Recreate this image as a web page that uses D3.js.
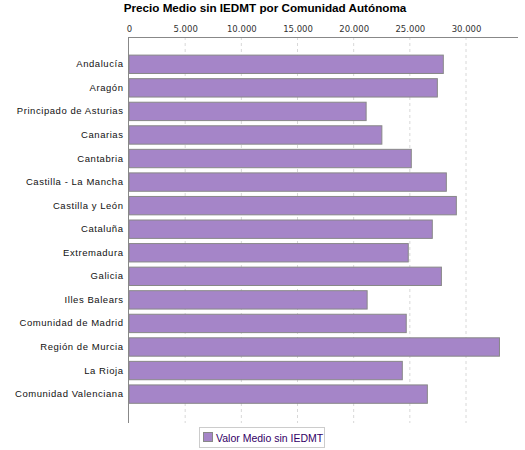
<!DOCTYPE html>
<html>
<head>
<meta charset="utf-8">
<script src="https://cdn.jsdelivr.net/npm/d3@7"></script>
<style>
  body { margin: 0; background: #fff; }
  svg { display: block; }
</style>
</head>
<body>
<div id="chart"></div>
<script>
const categories = [
  "Andalucía", "Aragón", "Principado de Asturias", "Canarias", "Cantabria",
  "Castilla - La Mancha", "Castilla y León", "Cataluña", "Extremadura", "Galicia",
  "Illes Balears", "Comunidad de Madrid", "Región de Murcia", "La Rioja",
  "Comunidad Valenciana"
];
const values = [
  27980, 27450, 21110, 22510, 25130,
  28250, 29140, 27000, 24860, 27810,
  21200, 24680, 32980, 24330, 26560
];
const ticks = [0, 5000, 10000, 15000, 20000, 25000, 30000];
const seriesName = "Valor Medio sin IEDMT";
const title = "Precio Medio sin IEDMT por Comunidad Autónoma";

const width = 525, height = 450;
const plot = { left: 129, right: 518, top: 37, bottom: 423 };

const svg = d3.select("#chart").append("svg")
  .attr("width", width)
  .attr("height", height);

const x = d3.scaleLinear()
  .domain([0, d3.max(values) * 1.05])
  .range([plot.left, plot.right]);

const y = d3.scaleBand()
  .domain(categories)
  .range([55.1, 403.3])
  .paddingInner(0.22)
  .paddingOuter(0);

// title
svg.append("text")
  .attr("x", 265)
  .attr("y", 12)
  .attr("text-anchor", "middle")
  .style("font-family", "Liberation Sans, Arial, sans-serif")
  .style("font-weight", "bold")
  .style("font-size", "11.7px")
  .style("fill", "#000")
  .text(title);

// grid lines
svg.append("g")
  .selectAll("line")
  .data(ticks.slice(1))
  .join("line")
  .attr("x1", d => x(d)).attr("x2", d => x(d))
  .attr("y1", plot.top).attr("y2", plot.bottom)
  .attr("stroke", "#d8d8d8")
  .attr("stroke-dasharray", "3,3")
  .attr("stroke-width", 1);

// top axis
const xAxis = svg.append("g")
  .attr("transform", `translate(0,${plot.top + 0.5})`)
  .call(d3.axisTop(x).tickValues(ticks).tickSize(0).tickPadding(6)
    .tickFormat(d => d3.format(",")(d).replace(/,/g, ".")));
xAxis.select(".domain").attr("stroke", "#888").attr("d", `M${plot.left},0H${plot.right}`);
xAxis.selectAll("text")
  .style("font-family", "DejaVu Sans, sans-serif")
  .style("font-size", "8.5px")
  .style("fill", "#333");

// bars
svg.append("g")
  .selectAll("rect")
  .data(values)
  .join("rect")
  .attr("x", x(0))
  .attr("y", (d, i) => y(categories[i]))
  .attr("width", d => x(d) - x(0))
  .attr("height", y.bandwidth())
  .attr("fill", "#a585c8")
  .attr("stroke", "#888")
  .attr("stroke-width", 1);

// left axis
const yAxis = svg.append("g")
  .attr("transform", `translate(${plot.left - 0.5},0)`)
  .call(d3.axisLeft(y).tickSize(0).tickPadding(5));
yAxis.select(".domain").attr("stroke", "#888").attr("d", `M0,${plot.top}V${plot.bottom}`);
yAxis.selectAll("text")
  .style("font-family", "Liberation Sans, Arial, sans-serif")
  .style("font-size", "9.5px")
  .style("letter-spacing", "0.55px")
  .style("fill", "#111");

// legend
const legend = svg.append("g");
legend.append("rect")
  .attr("x", 199.5).attr("y", 427.5)
  .attr("width", 125).attr("height", 20)
  .attr("fill", "#fff")
  .attr("stroke", "#ccc");
legend.append("rect")
  .attr("x", 203.5).attr("y", 432.5)
  .attr("width", 9).attr("height", 9)
  .attr("fill", "#a585c8")
  .attr("stroke", "#888");
legend.append("text")
  .attr("x", 216).attr("y", 441.5)
  .style("font-family", "Liberation Sans, Arial, sans-serif")
  .style("font-size", "10.5px")
  .style("fill", "#330066")
  .text(seriesName);
</script>
</body>
</html>
